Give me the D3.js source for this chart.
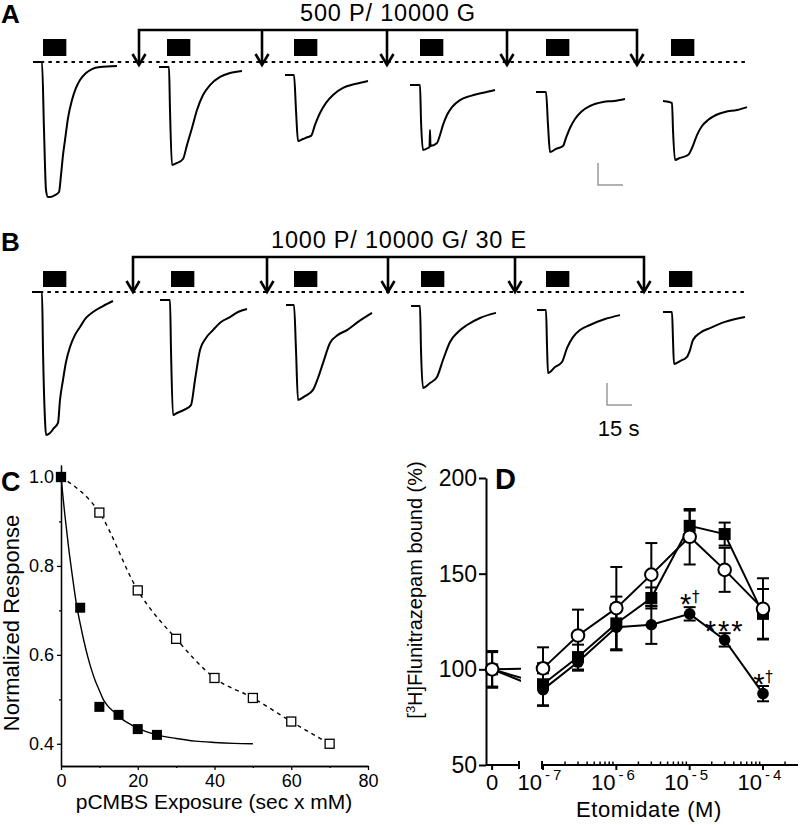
<!DOCTYPE html>
<html><head><meta charset="utf-8">
<script src="https://cdn.jsdelivr.net/npm/d3@7/dist/d3.min.js"></script>
<style>
body{margin:0;background:#fff}
svg{display:block}
text{font-family:'Liberation Sans',Arial,sans-serif;fill:#000}
</style>
</head><body>
<svg id="chart" width="800" height="825"></svg>
<script>
// ================= DATA =================
// Panels A/B: time in s, current in scale-bar units (negative = inward)
const titleA = "500 P/ 10000 G";
const titleB = "1000 P/ 10000 G/ 30 E";
const STIM_DUR = 14;
const barsA = [7.8, 82.2, 158.4, 234.0, 309.6, 384.6];
const barsB = [7.8, 84.6, 158.4, 234.6, 309.6, 383.4];
const arrowsA = [65.4, 139.2, 214.2, 286.2, 364.2];
const arrowsB = [61.8, 142.2, 214.8, 291.0, 368.4];
const sweepsA = [
 [[1.8,0],[7.2,0],[8.4,-3.09],[9.6,-5.82],[10.8,-6.14],[12,-6.14],[15,-6.05],[17.4,-5.91],[18.6,-5.14],[19.8,-4.23],[21,-3.55],[22.8,-2.55],[25.2,-1.73],[27.6,-1.18],[30,-0.82],[33.6,-0.5],[37.2,-0.32],[42,-0.23],[52.2,-0.18]],
 [[77.4,-0.23],[83.4,-0.23],[84,-2.18],[85.2,-4.68],[88.2,-4.59],[91.8,-4.41],[94.2,-3.77],[97.2,-3.0],[100.2,-2.18],[103.8,-1.5],[108,-1.05],[114,-0.68],[120,-0.5],[127.2,-0.41]],
 [[153,-0.59],[158.4,-0.59],[159.6,-2.18],[160.8,-3.59],[163.8,-3.5],[166.8,-3.41],[168.6,-3.36],[171,-2.86],[174,-2.32],[177.6,-1.86],[181.8,-1.5],[187.8,-1.18],[195,-1.0],[202.8,-0.86]],
 [[228,-1.05],[234,-1.05],[234.6,-2.64],[235.8,-4.0],[238.8,-3.91],[239.7,-3.86],[240,-3.09],[240.3,-3.82],[244.2,-3.68],[246,-3.32],[247.8,-2.86],[250.2,-2.41],[253.2,-2.05],[258,-1.73],[264,-1.55],[271.2,-1.41],[279,-1.27]],
 [[303.6,-1.36],[309.6,-1.36],[310.8,-2.86],[312,-4.09],[315.6,-3.95],[319.8,-3.82],[321.6,-3.45],[324,-3.0],[327,-2.59],[330.6,-2.27],[336,-2.0],[343.8,-1.82],[350.4,-1.77],[357,-1.68]],
 [[379.8,-1.77],[385.2,-1.86],[385.8,-3.09],[387,-4.45],[390,-4.36],[394.8,-4.23],[397.2,-3.91],[400.2,-3.32],[403.2,-2.91],[406.8,-2.64],[411.6,-2.41],[417,-2.27],[424.2,-2.18],[430.2,-2.05]]
];
const sweepsB = [
 [[1.2,0],[7.2,0],[7.8,-2.64],[9,-5.82],[9.6,-6.5],[12,-6.41],[14.4,-6.18],[16.8,-5.95],[18,-4.91],[19.8,-4.0],[21.6,-3.18],[24,-2.5],[27,-1.95],[30,-1.59],[33.6,-1.18],[37.8,-0.91],[43.8,-0.64],[49.8,-0.41]],
 [[78,-0.36],[84,-0.36],[84.6,-2.64],[85.8,-5.59],[88.2,-5.5],[92.4,-5.36],[96.6,-5.14],[99,-4.0],[102,-2.64],[105.6,-2.09],[109.8,-1.73],[114.6,-1.36],[120,-1.14],[124.8,-0.91],[130.2,-0.77]],
 [[153.6,-0.59],[158.4,-0.59],[159.6,-2.64],[160.8,-4.91],[165,-4.73],[169.8,-4.45],[172.8,-3.91],[175.8,-3.23],[180,-2.32],[184.8,-1.95],[190.2,-1.73],[196.8,-1.36],[205.2,-0.95]],
 [[228.6,-0.64],[234,-0.64],[234.6,-2.64],[235.8,-4.36],[240,-4.14],[244.2,-3.86],[247.8,-3.09],[252,-2.27],[256.8,-1.82],[262.2,-1.5],[270,-1.18],[279.6,-0.95]],
 [[304.2,-0.82],[309.6,-0.82],[310.2,-2.41],[310.8,-3.68],[315,-3.41],[319.2,-3.18],[322.2,-2.55],[325.8,-2.05],[330,-1.73],[336,-1.5],[345,-1.23],[354,-1.05]],
 [[379.8,-0.91],[385.2,-0.91],[385.8,-2.18],[386.4,-3.27],[390,-3.14],[394.2,-2.95],[396,-2.64],[397.8,-2.18],[402,-1.86],[408,-1.64],[417,-1.36],[429,-1.14]]
];
const scaleBarLabel = "15 s";

// Panel C
const cFilledX = [0, 5, 10, 15, 20, 25];
const cFilledY = [1.0, 0.706, 0.483, 0.465, 0.433, 0.42];
const cOpenX = [0, 10, 20, 30, 40, 50, 60, 70];
const cOpenY = [1.0, 0.92, 0.745, 0.636, 0.548, 0.503, 0.45, 0.40];
const cFitX = [0, 1, 2, 3, 4, 5, 6, 7, 8, 9, 10, 11, 12, 14, 16, 18, 20, 22, 25, 30, 35, 40, 45, 50];
const cFitY = [1.0, 0.915, 0.84, 0.775, 0.715, 0.67, 0.63, 0.595, 0.565, 0.54, 0.52, 0.50, 0.487, 0.47, 0.455, 0.444, 0.435, 0.428, 0.42, 0.412, 0.406, 0.403, 0.401, 0.40];
const cXTicks = [0, 20, 40, 60, 80];
const cYTicks = [0.4, 0.6, 0.8, 1.0];
const cXLabel = "pCMBS Exposure (sec x mM)";
const cYLabel = "Normalized Response";

// Panel D
const dConc = [0, 1e-7, 3e-7, 1e-6, 3e-6, 1e-5, 3e-5, 1e-4];
const openMean = [100, 100.5, 117.7, 132, 149.5, 169.3, 152, 131.6];
const openErr  = [9.5, 11, 13.5, 21.5, 16.5, 14.5, 11.5, 16];
const sqMean   = [100, 92.2, 106.4, 124, 137.3, 175, 170.7, 129];
const sqErr    = [9.5, 11, 6.5, 14, 5.5, 8, 6, 13];
const dotMean  = [100, 89.4, 103.8, 122, 123.3, 129, 115.4, 87.3];
const dotErr   = [9, 8.5, 4.5, 12, 10, 3.5, 3.5, 4];
const dYTicks = [50, 100, 150, 200];
const dXTicks = [1e-7, 1e-6, 1e-5, 1e-4];
const dXTickLabels = ["-7", "-6", "-5", "-4"];
const dAnnConc = [1e-5, 3e-5, 1e-4];
const dAnnVal  = [137.3, 123.2, 95.5];
const dAnnText = ["*", "***", "*"];
const dAnnDagger = [true, false, true];
const dXLabel = "Etomidate (M)";

// ================= DRAW =================
const svg = d3.select("#chart");
svg.append("rect").attr("width", 800).attr("height", 825).attr("fill", "#fff");

function tracePanel(o) {
  const x = d3.scaleLinear().domain([0, 450]).range([30, 780]);
  const y = d3.scaleLinear().domain([0, -1]).range([o.base, o.base + 22]);
  const g = svg.append("g");
  const y0 = y(0);
  g.append("line").attr("x1", x(o.dotRange[0])).attr("x2", x(o.dotRange[1]))
    .attr("y1", y0).attr("y2", y0).attr("stroke", "#000").attr("stroke-width", 2)
    .attr("stroke-dasharray", "3.5,4.2");
  g.selectAll("rect.stim").data(o.bars).join("rect").attr("class", "stim")
    .attr("x", d => x(d)).attr("width", d => x(d + STIM_DUR) - x(d))
    .attr("y", y0 - o.barTop).attr("height", o.barH).attr("fill", "#000");
  const by = y0 - o.brk, tip = y0 + o.tip;
  const ax = o.arrows.map(d => x(d));
  g.append("path").attr("d", `M${ax[0]},${tip - 1}V${by}H${ax[ax.length - 1]}V${tip - 1}`)
    .attr("fill", "none").attr("stroke", "#000").attr("stroke-width", 2.6);
  g.selectAll("line.arr").data(ax.slice(1, -1)).join("line").attr("class", "arr")
    .attr("x1", d => d).attr("x2", d => d).attr("y1", by).attr("y2", tip - 1)
    .attr("stroke", "#000").attr("stroke-width", 2.6);
  g.selectAll("path.head").data(ax).join("path").attr("class", "head")
    .attr("d", d => `M${d - 6.5},${tip - 11}L${d},${tip}L${d + 6.5},${tip - 11}`)
    .attr("fill", "none").attr("stroke", "#000").attr("stroke-width", 2.6);
  const line = d3.line().x(d => x(d[0])).y(d => y(d[1])).curve(d3.curveMonotoneX);
  g.selectAll("path.sweep").data(o.sweeps).join("path").attr("class", "sweep")
    .attr("d", line).attr("fill", "none").attr("stroke", "#000").attr("stroke-width", 2)
    .attr("stroke-linejoin", "round");
  g.append("path").attr("d", `M${x(o.sb[0])},${y(o.sb[1])}V${y(o.sb[1] - 1)}H${x(o.sb[0] + 15)}`)
    .attr("fill", "none").attr("stroke", "#999").attr("stroke-width", 1.5);
  g.append("text").attr("x", o.titleX).attr("y", o.titleY).attr("text-anchor", "middle")
    .style("font-size", "23.5px").style("letter-spacing", "0.8px").text(o.title);
  g.append("text").attr("x", 1).attr("y", o.labelY).style("font-size", "26px")
    .style("font-weight", "bold").text(o.label);
  if (o.sbText) {
    g.append("text").attr("x", x(o.sb[0] + 7)).attr("y", o.sbTextY).attr("text-anchor", "middle")
      .style("font-size", "22px").text(o.sbText);
  }
}

tracePanel({base: 62, dotRange: [1.8, 431.4], bars: barsA, barTop: 23, barH: 17,
  brk: 32, tip: 3, arrows: arrowsA, sweeps: sweepsA, sb: [340.8, -4.59],
  title: titleA, titleX: 388, titleY: 21, label: "A", labelY: 23});
tracePanel({base: 292, dotRange: [1.2, 430.8], bars: barsB, barTop: 21, barH: 16,
  brk: 35, tip: 0, arrows: arrowsB, sweeps: sweepsB, sb: [346.2, -4.14],
  title: titleB, titleX: 399, titleY: 248, label: "B", labelY: 251,
  sbText: scaleBarLabel, sbTextY: 436});

// ---------- Panel C ----------
(function () {
  const x = d3.scaleLinear().domain([0, 80]).range([61, 368]);
  const y = d3.scaleLinear().domain([0.35, 1.027]).range([766, 465]);
  const g = svg.append("g");
  g.append("g").attr("transform", "translate(61,0)")
    .call(d3.axisLeft(y).tickValues(cYTicks).tickFormat(d3.format(".1f")).tickSize(4).tickSizeOuter(0).tickPadding(3));
  g.append("g").attr("transform", "translate(61,0)")
    .call(d3.axisLeft(y).tickValues([0.5, 0.7, 0.9]).tickFormat("").tickSize(2).tickSizeOuter(0));
  g.append("g").attr("transform", "translate(0,766)")
    .call(d3.axisBottom(x).tickValues(cXTicks).tickSize(4).tickSizeOuter(0).tickPadding(4));
  g.append("g").attr("transform", "translate(0,766)")
    .call(d3.axisBottom(x).tickValues([10, 30, 50, 70]).tickFormat("").tickSize(2).tickSizeOuter(0));
  g.selectAll(".domain, .tick line").attr("stroke", "#000").attr("stroke-width", 1.3);
  g.selectAll(".tick text").style("font-size", "18px").style("font-family", "'Liberation Sans',Arial,sans-serif");
  const fit = cFitX.map((v, i) => [v, cFitY[i]]);
  const open = cOpenX.map((v, i) => [v, cOpenY[i]]);
  const filled = cFilledX.map((v, i) => [v, cFilledY[i]]);
  const line = d3.line().x(d => x(d[0])).y(d => y(d[1])).curve(d3.curveMonotoneX);
  g.append("path").attr("d", line(open)).attr("fill", "none").attr("stroke", "#000")
    .attr("stroke-width", 1.4).attr("stroke-dasharray", "4,4");
  g.append("path").attr("d", line(fit)).attr("fill", "none").attr("stroke", "#000").attr("stroke-width", 1.4);
  g.selectAll("rect.op").data(open).join("rect").attr("class", "op")
    .attr("x", d => x(d[0]) - 4.5).attr("y", d => y(d[1]) - 4.5).attr("width", 9).attr("height", 9)
    .attr("fill", "#fff").attr("stroke", "#000").attr("stroke-width", 1.3);
  g.selectAll("rect.fl").data(filled).join("rect").attr("class", "fl")
    .attr("x", d => x(d[0]) - 5).attr("y", d => y(d[1]) - 5).attr("width", 10).attr("height", 10)
    .attr("fill", "#000");
  g.append("text").attr("transform", "translate(19,623) rotate(-90)").attr("text-anchor", "middle")
    .style("font-size", "22px").text(cYLabel);
  g.append("text").attr("x", 214).attr("y", 809).attr("text-anchor", "middle")
    .style("font-size", "21px").text(cXLabel);
  g.append("text").attr("x", 1).attr("y", 491).style("font-size", "27px").style("font-weight", "bold").text("C");
})();

// ---------- Panel D ----------
(function () {
  const y = d3.scaleLinear().domain([50, 200]).range([765, 478]);
  const xL = d3.scaleLog().domain([1e-7, 3e-4]).range([543, 798]);
  const xZ = d3.scaleLinear().domain([-0.25, 1.1]).range([486, 519]);
  const X = c => c === 0 ? xZ(0) : xL(c);
  const g = svg.append("g");
  g.append("g").attr("transform", "translate(486,0)")
    .call(d3.axisLeft(y).tickValues(dYTicks).tickSize(7).tickSizeOuter(0).tickPadding(2));
  g.selectAll(".domain, .tick line").attr("stroke", "#000").attr("stroke-width", 2);
  g.selectAll(".tick text").style("font-size", "23px").style("font-family", "'Liberation Sans',Arial,sans-serif");
  const ax = g.append("g").attr("stroke", "#000").attr("stroke-width", 2);
  ax.append("line").attr("x1", xZ.range()[0]).attr("x2", xZ.range()[1]).attr("y1", 765).attr("y2", 765);
  ax.append("line").attr("x1", xZ(0)).attr("x2", xZ(0)).attr("y1", 765).attr("y2", 770);
  ax.append("line").attr("x1", xZ.range()[1]).attr("x2", xZ.range()[1]).attr("y1", 761).attr("y2", 769);
  ax.append("line").attr("x1", xL.range()[0] - 1).attr("x2", xL.range()[1]).attr("y1", 765).attr("y2", 765);
  ax.append("line").attr("x1", xL.range()[0] - 1).attr("x2", xL.range()[0] - 1).attr("y1", 761).attr("y2", 769);
  ax.selectAll("line.maj").data(dXTicks).join("line").attr("class", "maj")
    .attr("x1", d => xL(d)).attr("x2", d => xL(d)).attr("y1", 765).attr("y2", 770);
  const minors = [];
  for (let e = -7; e <= -4; e++) for (let m = 2; m <= 9; m++) { const v = m * Math.pow(10, e); if (v <= 3e-4) minors.push(v); }
  ax.selectAll("line.min").data(minors).join("line").attr("class", "min")
    .attr("x1", d => xL(d)).attr("x2", d => xL(d)).attr("y1", 765).attr("y2", 761.5).attr("stroke-width", 1.5);
  g.append("text").attr("x", xZ(0)).attr("y", 790).attr("text-anchor", "middle").style("font-size", "22px").text("0");
  g.selectAll("text.xt").data(dXTicks).join("text").attr("class", "xt")
    .attr("x", d => xL(d) - 2).attr("y", 790).attr("text-anchor", "middle").style("font-size", "22px")
    .each(function (d, i) {
      const t = d3.select(this);
      t.append("tspan").text("10");
      t.append("tspan").attr("dy", -10).attr("dx", 3).style("font-size", "15px").style("letter-spacing", "3px").text(dXTickLabels[i]);
    });
  const series = [
    {mean: dotMean, err: dotErr, shape: "dot"},
    {mean: sqMean, err: sqErr, shape: "sq"},
    {mean: openMean, err: openErr, shape: "open"}
  ];
  const defs = svg.append("defs");
  defs.append("clipPath").attr("id", "zclip").append("rect").attr("x", 480).attr("y", 400).attr("width", 41).attr("height", 400);
  const line = d3.line().x(d => X(d[0])).y(d => y(d[1]));
  series.forEach(s => {
    const pts = dConc.map((c, i) => [c, s.mean[i], s.err[i]]);
    const sg = g.append("g");
    sg.append("path").attr("d", line(pts.slice(1))).attr("fill", "none").attr("stroke", "#000").attr("stroke-width", 2);
    sg.append("path").attr("d", line(pts.slice(0, 2))).attr("clip-path", "url(#zclip)")
      .attr("fill", "none").attr("stroke", "#000").attr("stroke-width", 2);
    const eb = sg.selectAll("g.eb").data(pts).join("g").attr("class", "eb").attr("stroke", "#000").attr("stroke-width", 2);
    eb.append("line").attr("x1", d => X(d[0])).attr("x2", d => X(d[0])).attr("y1", d => y(d[1] - d[2])).attr("y2", d => y(d[1] + d[2]));
    eb.append("line").attr("x1", d => X(d[0]) - 6).attr("x2", d => X(d[0]) + 6).attr("y1", d => y(d[1] + d[2])).attr("y2", d => y(d[1] + d[2]));
    eb.append("line").attr("x1", d => X(d[0]) - 6).attr("x2", d => X(d[0]) + 6).attr("y1", d => y(d[1] - d[2])).attr("y2", d => y(d[1] - d[2]));
    if (s.shape === "sq") {
      sg.selectAll("rect.m").data(pts).join("rect").attr("class", "m")
        .attr("x", d => X(d[0]) - 6).attr("y", d => y(d[1]) - 6).attr("width", 12).attr("height", 12).attr("fill", "#000");
    } else if (s.shape === "dot") {
      sg.selectAll("circle.m").data(pts).join("circle").attr("class", "m")
        .attr("cx", d => X(d[0])).attr("cy", d => y(d[1])).attr("r", 5.8).attr("fill", "#000");
    } else {
      sg.selectAll("circle.m").data(pts).join("circle").attr("class", "m")
        .attr("cx", d => X(d[0])).attr("cy", d => y(d[1])).attr("r", 6.3)
        .attr("fill", "#fff").attr("stroke", "#000").attr("stroke-width", 2);
    }
  });
  dAnnConc.forEach((c, i) => {
    const cx = xL(c) - (dAnnDagger[i] ? 4 : 0), cy = y(dAnnVal[i]);
    g.append("text").attr("x", cx).attr("y", cy + 16).attr("text-anchor", "middle")
      .style("font-size", "29px").style("letter-spacing", dAnnText[i].length > 1 ? "2px" : "0px").text(dAnnText[i]);
    if (dAnnDagger[i]) g.append("text").attr("x", cx + 10).attr("y", cy + 4).attr("text-anchor", "middle")
      .style("font-size", "15px").style("font-family", "'DejaVu Sans',sans-serif").attr("fill", "#000").text("\u2020");
  });
  g.append("text").attr("transform", "translate(422,590) rotate(-90)").attr("text-anchor", "middle")
    .style("font-size", "20px")
    .call(t => {
      t.append("tspan").text("[");
      t.append("tspan").attr("dy", -7).style("font-size", "13px").text("3");
      t.append("tspan").attr("dy", 7).text("H]Flunitrazepam bound (%)");
    });
  g.append("text").attr("x", 649).attr("y", 817).attr("text-anchor", "middle")
    .style("font-size", "22px").style("letter-spacing", "0.6px").text(dXLabel);
  g.append("text").attr("x", 495).attr("y", 489).style("font-size", "29px").style("font-weight", "bold").text("D");
})();
</script>
</body></html>
